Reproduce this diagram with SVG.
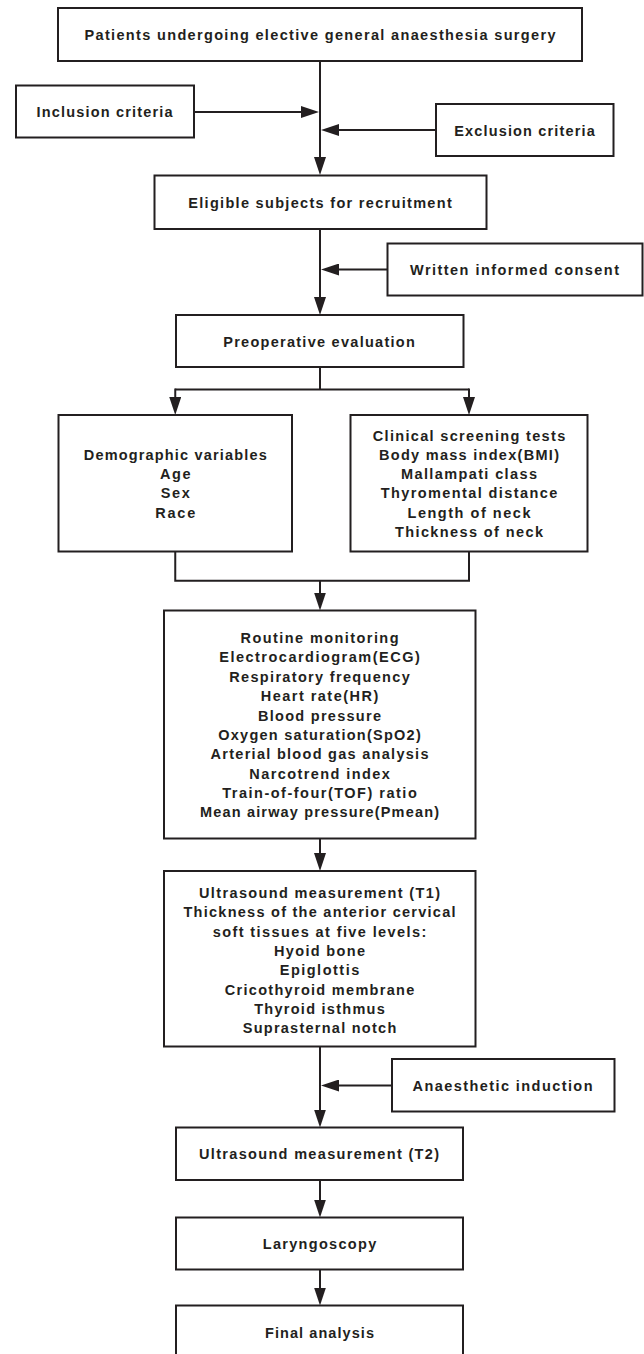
<svg xmlns="http://www.w3.org/2000/svg" width="644" height="1354" viewBox="0 0 644 1354">
<style>
.box{fill:#fff;stroke:#231f20;stroke-width:2}
.t{font-family:"Liberation Sans",Arial,Helvetica,sans-serif;font-weight:bold;font-size:14.5px;fill:#231f20;text-anchor:middle}
.c{fill:none;stroke:#231f20;stroke-width:2}
</style>
<defs>
<marker id="ah" markerUnits="userSpaceOnUse" markerWidth="18" markerHeight="12" refX="10" refY="6" orient="auto">
<path d="M0,0 L18,6 L0,12 z" fill="#231f20"/>
</marker>
</defs>
<rect width="644" height="1354" fill="#fff"/>
<g id="connectors">
<line class="c" x1="320" y1="61" x2="320" y2="167" marker-end="url(#ah)"/>
<line class="c" x1="194" y1="112" x2="311" y2="112" marker-end="url(#ah)"/>
<line class="c" x1="436" y1="130" x2="329" y2="130" marker-end="url(#ah)"/>
<line class="c" x1="320" y1="229" x2="320" y2="307" marker-end="url(#ah)"/>
<line class="c" x1="387.5" y1="269.5" x2="329" y2="269.5" marker-end="url(#ah)"/>
<polyline class="c" points="320,367 320,389.5"/>
<line class="c" x1="175.25" y1="389.5" x2="469" y2="389.5"/>
<line class="c" x1="175.25" y1="388.5" x2="175.25" y2="407" marker-end="url(#ah)"/>
<line class="c" x1="469" y1="388.5" x2="469" y2="407" marker-end="url(#ah)"/>
<polyline class="c" points="175.25,551.5 175.25,580.7 469,580.7 469,551.5"/>
<line class="c" x1="320" y1="580.7" x2="320" y2="602.5" marker-end="url(#ah)"/>
<line class="c" x1="320" y1="838.5" x2="320" y2="863" marker-end="url(#ah)"/>
<line class="c" x1="320" y1="1046.5" x2="320" y2="1119.5" marker-end="url(#ah)"/>
<line class="c" x1="392" y1="1085.5" x2="329" y2="1085.5" marker-end="url(#ah)"/>
<line class="c" x1="320" y1="1180" x2="320" y2="1209.5" marker-end="url(#ah)"/>
<line class="c" x1="320" y1="1269.5" x2="320" y2="1297.5" marker-end="url(#ah)"/>
</g>
<g id="n-patients">
<rect class="box" x="58" y="8" width="524" height="53"/>
<text class="t" x="320" y="40" textLength="471" lengthAdjust="spacing">Patients undergoing elective general anaesthesia surgery</text>
</g>
<g id="n-inclusion">
<rect class="box" x="16" y="85.5" width="178" height="52"/>
<text class="t" x="104.5" y="117" textLength="136" lengthAdjust="spacing">Inclusion criteria</text>
</g>
<g id="n-exclusion">
<rect class="box" x="436" y="104" width="177.5" height="52"/>
<text class="t" x="524.5" y="135.5" textLength="140.5" lengthAdjust="spacing">Exclusion criteria</text>
</g>
<g id="n-eligible">
<rect class="box" x="154.5" y="175.5" width="332" height="53.5"/>
<text class="t" x="320" y="207.5" textLength="263.5" lengthAdjust="spacing">Eligible subjects for recruitment</text>
</g>
<g id="n-consent">
<rect class="box" x="387.5" y="243.5" width="255" height="52"/>
<text class="t" x="514.5" y="275" textLength="209" lengthAdjust="spacing">Written informed consent</text>
</g>
<g id="n-preop">
<rect class="box" x="176" y="315" width="287.5" height="52"/>
<text class="t" x="319" y="346.5" textLength="191.5" lengthAdjust="spacing">Preoperative evaluation</text>
</g>
<g id="n-demographic">
<rect class="box" x="58.5" y="415" width="233.5" height="136.5"/>
<text class="t" x="175.25" y="459.8" textLength="183" lengthAdjust="spacing">Demographic variables</text>
<text class="t" x="175.25" y="479.1" textLength="30.5" lengthAdjust="spacing">Age</text>
<text class="t" x="175.25" y="498.4" textLength="29" lengthAdjust="spacing">Sex</text>
<text class="t" x="175.25" y="517.7" textLength="40" lengthAdjust="spacing">Race</text>
</g>
<g id="n-clinical">
<rect class="box" x="350.5" y="415" width="237" height="136.5"/>
<text class="t" x="469" y="440.5" textLength="192.5" lengthAdjust="spacing">Clinical screening tests</text>
<text class="t" x="469" y="459.8" textLength="180" lengthAdjust="spacing">Body mass index(BMI)</text>
<text class="t" x="469" y="479.1" textLength="136" lengthAdjust="spacing">Mallampati class</text>
<text class="t" x="469" y="498.4" textLength="176.5" lengthAdjust="spacing">Thyromental distance</text>
<text class="t" x="469" y="517.7" textLength="123" lengthAdjust="spacing">Length of neck</text>
<text class="t" x="469" y="537" textLength="148" lengthAdjust="spacing">Thickness of neck</text>
</g>
<g id="n-routine">
<rect class="box" x="164" y="610.5" width="311.5" height="228"/>
<text class="t" x="319.5" y="643" textLength="158" lengthAdjust="spacing">Routine monitoring</text>
<text class="t" x="319.5" y="662.4" textLength="200.5" lengthAdjust="spacing">Electrocardiogram(ECG)</text>
<text class="t" x="319.5" y="681.7" textLength="180.5" lengthAdjust="spacing">Respiratory frequency</text>
<text class="t" x="319.5" y="701.1" textLength="117.5" lengthAdjust="spacing">Heart rate(HR)</text>
<text class="t" x="319.5" y="720.5" textLength="123" lengthAdjust="spacing">Blood pressure</text>
<text class="t" x="319.5" y="739.9" textLength="202.5" lengthAdjust="spacing">Oxygen saturation(SpO2)</text>
<text class="t" x="319.5" y="759.2" textLength="218" lengthAdjust="spacing">Arterial blood gas analysis</text>
<text class="t" x="319.5" y="778.6" textLength="140.5" lengthAdjust="spacing">Narcotrend index</text>
<text class="t" x="319.5" y="798" textLength="194.5" lengthAdjust="spacing">Train-of-four(TOF) ratio</text>
<text class="t" x="319.5" y="817.3" textLength="239" lengthAdjust="spacing">Mean airway pressure(Pmean)</text>
</g>
<g id="n-t1">
<rect class="box" x="164" y="871" width="311.5" height="175.5"/>
<text class="t" x="319.5" y="898" textLength="241" lengthAdjust="spacing">Ultrasound measurement (T1)</text>
<text class="t" x="319.5" y="917.4" textLength="272" lengthAdjust="spacing">Thickness of the anterior cervical</text>
<text class="t" x="319.5" y="936.7" textLength="213.5" lengthAdjust="spacing">soft tissues at five levels:</text>
<text class="t" x="319.5" y="956" textLength="91" lengthAdjust="spacing">Hyoid bone</text>
<text class="t" x="319.5" y="975.4" textLength="79.5" lengthAdjust="spacing">Epiglottis</text>
<text class="t" x="319.5" y="994.7" textLength="189.5" lengthAdjust="spacing">Cricothyroid membrane</text>
<text class="t" x="319.5" y="1014" textLength="130.5" lengthAdjust="spacing">Thyroid isthmus</text>
<text class="t" x="319.5" y="1033.4" textLength="153.5" lengthAdjust="spacing">Suprasternal notch</text>
</g>
<g id="n-induction">
<rect class="box" x="392" y="1059" width="222.5" height="52.5"/>
<text class="t" x="502.5" y="1090.8" textLength="180" lengthAdjust="spacing">Anaesthetic induction</text>
</g>
<g id="n-t2">
<rect class="box" x="176" y="1127.5" width="287" height="52.5"/>
<text class="t" x="319" y="1159.2" textLength="240" lengthAdjust="spacing">Ultrasound measurement (T2)</text>
</g>
<g id="n-laryngoscopy">
<rect class="box" x="176" y="1217.5" width="287" height="52"/>
<text class="t" x="319.5" y="1248.8" textLength="113.5" lengthAdjust="spacing">Laryngoscopy</text>
</g>
<g id="n-final">
<rect class="box" x="176" y="1305.5" width="287" height="60"/>
<text class="t" x="319.5" y="1337.5" textLength="109" lengthAdjust="spacing">Final analysis</text>
</g>
</svg>
